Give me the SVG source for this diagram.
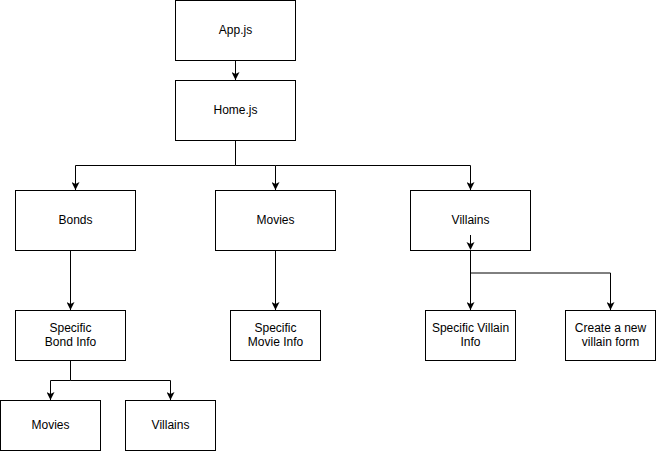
<svg xmlns="http://www.w3.org/2000/svg" width="657" height="452" viewBox="0 0 657 452">
<style>
.box{fill:#fff;stroke:#000;stroke-width:1}
.lbl{font-family:"Liberation Sans",Arial,Helvetica,sans-serif;font-size:12px;fill:#000;text-anchor:middle}
.edge{fill:none;stroke:#000;stroke-width:1}
.head{fill:#000;stroke:none}
</style>
<defs>
<marker id="arr" markerUnits="userSpaceOnUse" viewBox="0 0 8 8" markerWidth="8" markerHeight="8" refX="8" refY="4" orient="auto">
<path d="M0,0 L8,4 L0,8 L2,4 Z" fill="#000"/>
</marker>
</defs>
<rect width="657" height="452" fill="#fff"/>
<g id="connectors">
<path class="edge" d="M235.5,60.5 V80" marker-end="url(#arr)"/>
<path class="edge" d="M235.5,140.5 V165.5 H75.5 V190" marker-end="url(#arr)"/>
<path class="edge" d="M235.5,165.5 H275.5 V190" marker-end="url(#arr)"/>
<path class="edge" d="M275.5,165.5 H470.5 V190" marker-end="url(#arr)"/>
<path class="edge" d="M70.5,250.5 V310" marker-end="url(#arr)"/>
<path class="edge" d="M275.5,250.5 V310" marker-end="url(#arr)"/>
<path class="edge" d="M470.5,250 V310" marker-end="url(#arr)"/>
<path class="edge" d="M470.5,273 H610.5 V310" marker-end="url(#arr)"/>
<path class="edge" d="M70.5,360.5 V380.5 H50.5 V400" marker-end="url(#arr)"/>
<path class="edge" d="M70.5,380.5 H170.5 V400" marker-end="url(#arr)"/>
</g>
<g id="app">
<rect class="box" x="175.5" y="0.5" width="120" height="60"/>
<text class="lbl" x="235.5" y="34">App.js</text>
</g>
<g id="home">
<rect class="box" x="175.5" y="80.5" width="120" height="60"/>
<text class="lbl" x="235.5" y="114">Home.js</text>
</g>
<g id="bonds">
<rect class="box" x="15.5" y="190.5" width="120" height="60"/>
<text class="lbl" x="75.5" y="224">Bonds</text>
</g>
<g id="movies">
<rect class="box" x="215.5" y="190.5" width="120" height="60"/>
<text class="lbl" x="275.5" y="224">Movies</text>
</g>
<g id="villains">
<rect class="box" x="410.5" y="190.5" width="120" height="60"/>
<text class="lbl" x="470.5" y="224">Villains</text>
</g>
<g id="villains-out">
<line class="edge" x1="470.5" y1="235" x2="470.5" y2="246"/>
<path class="head" d="M466.5,242 L470.5,250 L474.5,242 L470.5,244 Z"/>
</g>
<g id="specific-bond">
<rect class="box" x="15.5" y="310.5" width="110" height="50"/>
<text class="lbl" x="70.5" y="332">Specific</text>
<text class="lbl" x="70.5" y="346">Bond Info</text>
</g>
<g id="specific-movie">
<rect class="box" x="230.5" y="310.5" width="90" height="50"/>
<text class="lbl" x="275.5" y="332">Specific</text>
<text class="lbl" x="275.5" y="346">Movie Info</text>
</g>
<g id="specific-villain">
<rect class="box" x="425.5" y="310.5" width="90" height="50"/>
<text class="lbl" x="470.5" y="332">Specific Villain</text>
<text class="lbl" x="470.5" y="346">Info</text>
</g>
<g id="create-villain">
<rect class="box" x="565.5" y="310.5" width="90" height="50"/>
<text class="lbl" x="610.5" y="332">Create a new</text>
<text class="lbl" x="610.5" y="346">villain form</text>
</g>
<g id="bond-movies">
<rect class="box" x="0.5" y="400.5" width="100" height="50"/>
<text class="lbl" x="50.5" y="429">Movies</text>
</g>
<g id="bond-villains">
<rect class="box" x="125.5" y="400.5" width="90" height="50"/>
<text class="lbl" x="170.5" y="429">Villains</text>
</g>
</svg>
